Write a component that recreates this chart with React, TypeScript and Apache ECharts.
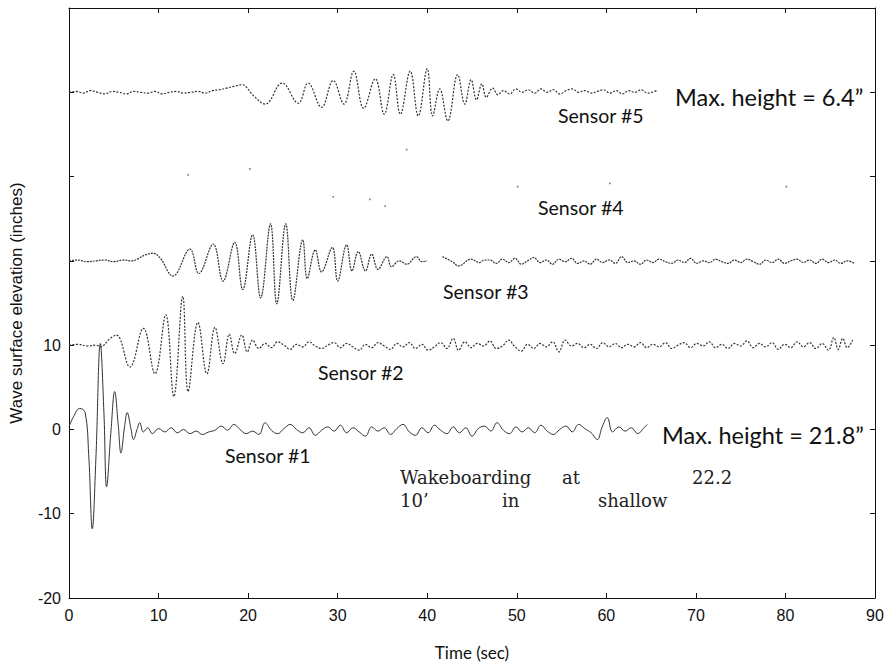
import React, { useEffect, useRef } from "react";
import * as echarts from "echarts";

// Vertical offsets (inches) at which each sensor trace is drawn
const sensorOffsets = [0, 10, 20, 30, 40];

// Relative wave elevation (inches) vs time (sec)
const sensor1: [number, number | null][] = [
  [0, 0.3], [0.5, 1.5], [1.2, 2.5], [1.8, 2.0], [2.2, -3], [2.6, -11.8], [3.0, -3.5], [3.5, 10.2],
  [3.9, 2.0], [4.2, -6.8], [4.7, 0], [5.1, 4.5], [5.5, 0.5], [5.8, -2.8], [6.2, 0.3], [6.5, 2.0],
  [6.9, 0.2], [7.2, -1.2], [7.6, 0.0], [7.9, 0.8], [8.3, -0.3], [8.8, 0.2],
  [9.3, -0.5], [10.0, 0.1], [10.7, -0.3], [11.4, 0.2], [12.1, -0.4], [12.8, 0.0], [13.5, -0.5], [14.2, -0.2],
  [14.9, -0.6], [15.6, -0.3], [16.3, -0.1], [17.0, 0.4], [17.7, -0.1], [18.4, 0.6], [19.1, 0.0], [19.8, -0.5],
  [20.5, -0.2], [21.2, -0.6], [21.9, 0.8], [22.6, -0.1], [23.3, -0.5], [24.0, 0.1], [24.7, 0.6], [25.4, 0.0],
  [26.1, -0.4], [26.8, 0.2], [27.5, -0.7], [28.2, -0.1], [28.9, 0.3], [29.6, -0.2], [30.3, 0.5], [31.0, -0.4],
  [31.7, 0.2], [32.4, -0.3], [33.1, -0.8], [33.8, 0.3], [34.5, -0.2], [35.2, 0.2], [35.9, -0.6], [36.6, 0.1],
  [37.3, 0.6], [38.0, -0.3], [38.7, -0.7], [39.4, 0.2], [40.1, -0.4], [40.8, 0.5], [41.5, -0.1], [42.2, -0.5],
  [42.9, 0.3], [43.6, -0.4], [44.3, 0.2], [45.0, -0.8], [45.7, 0.1], [46.4, 0.4], [47.1, -0.2], [47.8, 0.8],
  [48.5, -0.1], [49.2, -0.5], [49.9, 0.3], [50.6, -0.3], [51.3, 0.2], [52.0, -0.4], [52.7, 0.5], [53.4, -0.2],
  [54.1, -0.6], [54.8, 0.0], [55.5, 0.4], [56.2, -0.3], [56.9, 0.6], [57.6, 0.1], [58.3, -0.4], [59.0, -1.2],
  [59.5, 0.2], [60.1, 1.4], [60.7, -0.3], [61.4, 0.3], [62.1, -0.2], [62.8, 0.2], [63.5, -0.5], [64.2, 0.2],
  [64.6, 0.6],
];

const sensor2: [number, number | null][] = [
  [0, 0], [1, 0.1], [2, -0.1], [3, 0.0], [3.5, -0.2], [4.6, 0.8], [5.3, 1.2], [6.8, -2.6], [8.3, 2.0],
  [9.6, -3.4], [10.8, 3.6], [11.7, -6.1], [12.7, 5.8], [13.3, -5.5], [14.4, 2.7], [15.4, -3.4], [16.3, 2.1],
  [17.2, -2.2], [17.9, 1.3], [18.5, -1.0], [19.3, 1.2], [19.9, -0.8], [20.5, 0.6],
  [21.2, -0.4], [21.9, 0.2], [22.6, -0.3], [23.3, 0.4], [24.0, 0.0], [24.7, -0.5], [25.4, 0.1], [26.1, -0.2],
  [26.8, 0.4], [27.5, -0.1], [28.2, -0.4], [28.9, 0.0], [29.6, 0.3], [30.3, -0.3], [31.0, 0.2], [31.7, -0.2],
  [32.4, -0.6], [33.1, 0.1], [33.8, -0.3], [34.5, 0.3], [35.2, -0.1], [35.9, -0.5], [36.6, 0.2], [37.3, -0.2],
  [38.0, 0.3], [38.7, -0.4], [39.4, 0.1], [40.1, -0.6], [40.8, -0.2], [41.5, 0.3], [42.2, -0.4], [42.9, 0.8],
  [43.5, -0.6], [44.2, 0.4], [44.9, -0.3], [45.6, 0.2], [46.3, -0.1], [47.0, 0.5], [47.7, -0.4], [48.4, -0.1],
  [49.1, 0.6], [49.8, -0.2], [50.5, -0.7], [51.2, 0.1], [51.9, -0.4], [52.6, 0.2], [53.3, -0.2], [54.0, 0.4],
  [54.7, -0.8], [55.4, 0.6], [56.1, -0.1], [56.8, 0.2], [57.5, -0.3], [58.2, 0.1], [58.9, -0.4], [59.6, 0.3],
  [60.3, -0.2], [61.0, 0.2], [61.7, -0.3], [62.4, 0.1], [63.1, -0.2], [63.8, 0.3], [64.5, -0.3], [65.2, 0.1],
  [65.9, -0.2], [66.6, 0.3], [67.3, -0.4], [68.0, 0.0], [68.7, 0.3], [69.4, -0.3], [70.1, 0.2], [70.8, -0.1],
  [71.5, 0.4], [72.2, -0.3], [72.9, 0.1], [73.6, -0.4], [74.3, 0.2], [75.0, -0.1], [75.7, 0.5], [76.4, -0.3],
  [77.1, 0.2], [77.8, -0.2], [78.5, 0.3], [79.2, -0.5], [79.9, 0.1], [80.6, -0.3], [81.3, 0.4], [82.0, -0.2],
  [82.7, 0.3], [83.4, -0.4], [84.1, 0.2], [84.8, -0.6], [85.4, 0.9], [85.9, -0.5], [86.4, 0.8], [86.9, -0.3],
  [87.5, 0.6],
];

const sensor3: [number, number | null][] = [
  [0, 0], [1, 0.1], [2, -0.1], [3, 0], [4, 0.1], [5, -0.1], [6, 0.1], [7, 0], [7.8, 0.3], [8.5, 0.7],
  [9.4, 0.9], [10.2, 0.3], [11.6, -1.8], [13.5, 1.4], [14.5, -1.5], [16.1, 2.0], [17.2, -2.4], [18.5, 2.2],
  [19.4, -3.4], [20.5, 3.1], [21.4, -4.4], [22.5, 4.4], [23.2, -5.1], [24.2, 4.4], [25.0, -4.7], [26.1, 2.5],
  [26.6, -2.1], [27.5, 1.3], [28.2, -1.3], [29.4, 1.6], [30.0, -2.4], [31.0, 1.9], [31.6, -1.2], [32.3, 1.1],
  [33.1, -1.2], [33.8, 0.8], [34.5, -1.0], [35.5, 0.5], [36.0, -0.7], [36.9, 0], [37.7, -0.4], [38.8, 0.5],
  [39.4, -0.1], [40.0, 0.0], [40.8, null], [41.7, 0.5], [42.8, -0.1], [43.5, -0.6], [44.9, 0.2], [45.8, -0.2],
  [46.4, 0.1], [47.0, 0.1], [47.7, -0.3], [48.4, 0.2], [49.1, -0.2], [49.8, 0.3], [50.5, -0.4], [51.2, 0.0],
  [51.9, 0.4], [52.6, -0.2], [53.3, 0.1], [54.0, -0.4], [54.7, 0.2], [55.4, -0.1], [56.1, 0.3], [56.8, -0.3],
  [57.5, 0.0], [58.2, -0.4], [58.9, 0.2], [59.6, -0.2], [60.3, 0.1], [61.0, -0.3], [61.7, 0.5], [62.4, -0.2],
  [63.1, 0.0], [63.8, -0.4], [64.5, 0.1], [65.2, -0.2], [65.9, 0.2], [66.6, -0.1], [67.3, -0.3], [68.0, 0.1],
  [68.7, -0.2], [69.4, 0.3], [70.1, -0.3], [70.8, 0.0], [71.5, -0.2], [72.2, 0.2], [72.9, -0.1], [73.6, -0.3],
  [74.3, 0.1], [75.0, -0.2], [75.7, 0.2], [76.4, -0.1], [77.1, -0.4], [77.8, 0.1], [78.5, -0.2], [79.2, 0.2],
  [79.9, -0.3], [80.6, 0.0], [81.3, 0.2], [82.0, -0.2], [82.7, 0.1], [83.4, -0.3], [84.1, 0.2], [84.8, -0.2],
  [85.5, 0.1], [86.2, -0.3], [86.9, 0.0], [87.7, -0.3],
];

// Sensor #4 trace is almost invisible in the scan: only a few faint dots remain
const sensor4: [number, number][] = [
  [13.3, 0.2], [20.2, 0.9], [29.5, -2.4], [33.6, -2.7], [35.3, -3.5], [37.7, 3.2], [50.1, -1.2], [60.4, -0.8], [80.1, -1.2],
];

const sensor5: [number, number | null][] = [
  [0, 0.0], [0.8, 0.1], [1.6, -0.1], [2.4, 0.2], [3.2, 0.0], [4.0, -0.2], [4.8, 0.1], [5.6, 0.0], [6.4, -0.2],
  [7.2, 0.1], [8.0, 0.0], [8.8, -0.1], [9.6, 0.1], [10.4, -0.2], [11.2, 0.0], [12.0, 0.1], [12.8, -0.1],
  [13.6, 0.0], [14.4, 0.1], [15.2, -0.1], [16.0, 0.2], [16.8, 0.3], [17.6, 0.5], [18.4, 0.7], [19.3, 0.9],
  [20.6, -0.4], [21.9, -1.4], [23.8, 1.1], [25.6, -1.3], [26.7, 1.1], [28.2, -1.8], [29.5, 1.4], [30.7, -1.4],
  [31.8, 2.5], [32.9, -1.9], [34.2, 1.6], [35.2, -2.6], [36.2, 2.1], [37.0, -2.6], [38.1, 2.5], [39.0, -2.8],
  [40.0, 2.8], [40.6, -2.8], [41.4, 0.4], [42.3, -3.4], [43.4, 2.1], [44.2, -1.4], [44.9, 1.5], [45.5, -0.9],
  [46.1, 1.0], [46.6, -0.6], [47.3, 0.5], [47.9, -0.3], [48.5, 0.2], [49.2, -0.2], [49.9, 0.4], [50.6, 0.0],
  [51.3, 0.3], [52.0, -0.1], [52.7, 0.4], [53.4, 0.0], [54.1, 0.3], [54.8, -0.2], [55.5, 0.2], [56.2, 0.4],
  [56.9, 0.0], [57.6, 0.2], [58.3, -0.1], [59.0, 0.1], [59.7, 0.3], [60.4, -0.1], [61.1, 0.2], [61.8, -0.2],
  [62.5, 0.2], [63.2, 0.0], [63.9, 0.3], [64.6, -0.1], [65.6, 0.2],
];

const xTicks = [0, 10, 20, 30, 40, 50, 60, 70, 80, 90];
const yLabeledTicks = [-20, -10, 0, 10];

const shift = (arr: [number, number | null][], off: number) =>
  arr.map(([t, v]) => [t, v === null ? null : v + off]);

export default function App() {
  const ref = useRef<HTMLDivElement>(null);
  useEffect(() => {
    const chart = echarts.init(ref.current!, null, { renderer: "svg" });
    const axisLine = { show: true, onZero: false, lineStyle: { color: "#111", width: 1 } };
    const tick = { show: true, inside: true, length: 5, lineStyle: { color: "#111" } };
    const traceColor = "#333";
    const lineSeries = (name: string, data: any[], type: any, width: number) => ({
      name,
      type: "line",
      data,
      showSymbol: false,
      smooth: 0.4,
      connectNulls: false,
      lineStyle: { color: traceColor, width, type },
      xAxisIndex: 0,
      yAxisIndex: 0,
    });
    const sensorLbl = { fontFamily: "Lato", fontSize: 19.5, fill: "#111" };
    const maxLbl = { fontFamily: "Lato", fontSize: 23.5, fill: "#111" };
    const serifLbl = { fontFamily: "DejaVu Serif", fontSize: 18, fill: "#222" };
    const txt = (text: string, x: number, y: number, style: any) => ({
      type: "text",
      x,
      y,
      style: { text, ...style, textVerticalAlign: "middle" },
    });
    chart.setOption({
      animation: false,
      backgroundColor: "#fff",
      grid: { left: 69, right: 14, top: 8, bottom: 66, containLabel: false },
      xAxis: [
        {
          type: "value",
          min: 0,
          max: 90,
          interval: 10,
          axisLine,
          axisTick: tick,
          splitLine: { show: false },
          axisLabel: {
            color: "#111",
            fontFamily: "Liberation Sans",
            fontSize: 16,
            margin: 9,
            formatter: (v: number) => (xTicks.includes(v) ? String(v) : ""),
          },
          name: "Time (sec)",
          nameLocation: "middle",
          nameGap: 46,
          nameTextStyle: { fontFamily: "Lato", fontSize: 17, color: "#111" },
        },
        {
          type: "value",
          position: "top",
          min: 0,
          max: 90,
          interval: 10,
          axisLine,
          axisTick: tick,
          splitLine: { show: false },
          axisLabel: { show: false },
        },
      ],
      yAxis: [
        {
          type: "value",
          min: -20,
          max: 50,
          interval: 10,
          axisLine,
          axisTick: tick,
          splitLine: { show: false },
          axisLabel: {
            color: "#111",
            fontFamily: "Liberation Sans",
            fontSize: 16,
            margin: 8,
            formatter: (v: number) => (yLabeledTicks.includes(v) ? String(v) : ""),
          },
          name: "Wave surface elevation (inches)",
          nameLocation: "middle",
          nameGap: 44,
          nameTextStyle: { fontFamily: "Liberation Sans", fontSize: 17, color: "#111" },
        },
        {
          type: "value",
          position: "right",
          min: -20,
          max: 50,
          interval: 10,
          axisLine,
          axisTick: tick,
          splitLine: { show: false },
          axisLabel: { show: false },
        },
      ],
      series: [
        lineSeries("Sensor #1", shift(sensor1, sensorOffsets[0]), "solid", 1),
        lineSeries("Sensor #2", shift(sensor2, sensorOffsets[1]), [2, 1.5], 1.2),
        lineSeries("Sensor #3", shift(sensor3, sensorOffsets[2]), [2, 1], 1.2),
        {
          name: "Sensor #4",
          type: "scatter",
          data: sensor4.map(([t, v]) => [t, v + sensorOffsets[3]]),
          symbolSize: 2,
          itemStyle: { color: "#777" },
        },
        lineSeries("Sensor #5", shift(sensor5, sensorOffsets[4]), [2, 1.5], 1.2),
      ],
      graphic: [
        txt("Max. height = 6.4\u201D", 675, 97, maxLbl),
        txt("Sensor #5", 558, 115, sensorLbl),
        txt("Sensor #4", 538, 207, sensorLbl),
        txt("Sensor #3", 443, 291, sensorLbl),
        txt("Sensor #2", 318, 372, sensorLbl),
        txt("Sensor #1", 225, 455, sensorLbl),
        txt("Max. height = 21.8\u201D", 662, 435, maxLbl),
        txt("Wakeboarding", 400, 477, serifLbl),
        txt("at", 562, 477, serifLbl),
        txt("22.2", 692, 477, serifLbl),
        txt("10\u2019", 400, 500, serifLbl),
        txt("in", 502, 500, serifLbl),
        txt("shallow", 598, 500, serifLbl),
      ],
    });
    return () => chart.dispose();
  }, []);
  return (
    <div
      ref={ref}
      style={{ position: "absolute", left: 0, top: 0, width: 889, height: 666 }}
    />
  );
}
